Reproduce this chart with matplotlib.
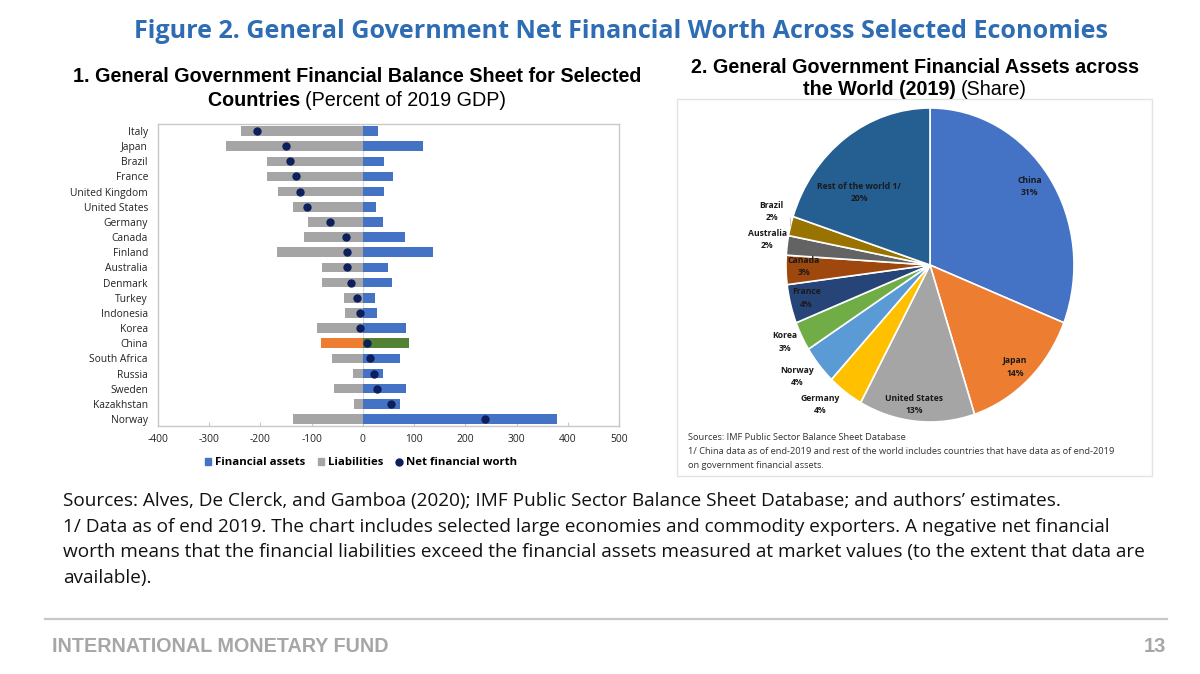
import numpy as np
import matplotlib
matplotlib.use("Agg")
import matplotlib.pyplot as plt
from matplotlib.patches import Patch, Rectangle
from matplotlib.lines import Line2D

plt.rcParams["axes.unicode_minus"] = False

# ---- data: panel 1 (percent of 2019 GDP)
countries = ["Italy", "Japan", "Brazil", "France", "United Kingdom", "United States",
             "Germany", "Canada", "Finland", "Australia", "Denmark", "Turkey",
             "Indonesia", "Korea", "China", "South Africa", "Russia", "Sweden",
             "Kazakhstan", "Norway"]
assets = [29, 117, 42, 58, 42, 25, 40, 83, 136, 50, 56, 23, 27, 85, 89, 73, 39, 85, 73, 378]
liabilities = [-237, -267, -187, -187, -165, -136, -107, -115, -167, -80, -79, -36,
               -35, -90, -81, -61, -20, -56, -18, -137]
net_worth = [-207, -150, -143, -130, -122, -109, -64, -33, -30, -30, -23, -12,
             -6, -6, 8, 13, 21, 28, 55, 239]

# ---- data: panel 2 (share of world assets, 2019)
pie_names = ["China", "Japan", "United States", "Germany", "Norway", "Korea",
             "France", "Canada", "Australia", "Brazil", "Rest of the world 1/"]
pie_shares = [31, 14, 13, 4, 4, 3, 4, 3, 2, 2, 20]

BLUE = "#4472C4"
GREY = "#A5A5A5"
pie_colors = ["#4472C4", "#ED7D31", "#A5A5A5", "#FFC000", "#5B9BD5", "#70AD47",
              "#264478", "#9E480E", "#636363", "#997300", "#255E91"]
# label positions in pie units (layout only)
label_pos = [(0.69, 0.50), (0.59, -0.65), (-0.11, -0.89), (-0.76, -0.89),
             (-0.92, -0.71), (-1.01, -0.49), (-0.86, -0.21), (-0.875, -0.01),
             (-1.13, 0.16), (-1.10, 0.34), (-0.49, 0.46)]

W, H = 1200, 674
fig = plt.figure(figsize=(12, 6.74), dpi=100)
fig.patch.set_facecolor("white")

def fx(px):
    return px / W

def fy(py):
    return 1 - py / H

SANS = ["Open Sans", "DejaVu Sans"]
ARIAL = ["Liberation Sans", "DejaVu Sans"]

# ---- titles
fig.text(fx(621), fy(38), "Figure 2. General Government Net Financial Worth Across Selected Economies",
         ha="center", va="baseline", fontsize=18.1, fontweight="bold", color="#2E6DB4", family=SANS)

renderer = fig.canvas.get_renderer()

def mixed_line(xc, yb, bold_txt, reg_txt, size):
    t1 = fig.text(0, fy(yb), bold_txt, ha="left", va="baseline", fontsize=size,
                  fontweight="bold", family=ARIAL)
    t2 = fig.text(0, fy(yb), reg_txt, ha="left", va="baseline", fontsize=size, family=ARIAL)
    w1 = t1.get_window_extent(renderer).width
    w2 = t2.get_window_extent(renderer).width if reg_txt else 0
    x0 = xc - (w1 + w2) / 2
    t1.set_x(fx(x0))
    t2.set_x(fx(x0 + w1))

mixed_line(357, 82, "1. General Government Financial Balance Sheet for Selected", "", 14.2)
mixed_line(357, 106, "Countries ", "(Percent of 2019 GDP)", 14.2)
mixed_line(915, 73, "2. General Government Financial Assets across", "", 14.2)
mixed_line(915, 95, "the World (2019) ", "(Share)", 14.2)

# ---- panel 1: bars
ax = fig.add_axes([fx(157.7), fy(426), fx(619.3 - 157.7), (426 - 124) / H])
y = np.arange(len(countries))
liab_col = [GREY] * len(countries)
ass_col = [BLUE] * len(countries)
ci = countries.index("China")
liab_col[ci] = "#ED7D31"
ass_col[ci] = "#548235"
ax.barh(y, assets, height=0.63, color=ass_col, zorder=2)
ax.barh(y, liabilities, height=0.63, color=liab_col, zorder=2)
ax.plot(net_worth, y, "o", color="#0D1F5C", markersize=5, zorder=3, linestyle="none")
ax.axvline(0, color="#D9D9D9", lw=0.8, zorder=1)
ax.set_xlim(-400, 500)
ax.set_ylim(len(countries) - 0.54, -0.46)
ax.set_xticks(range(-400, 501, 100))
ax.set_yticks(y)
ax.set_yticklabels(countries)
for s in ax.spines.values():
    s.set_color("#C8C8C8")
    s.set_linewidth(1.0)
ax.tick_params(axis="y", length=0, pad=7, labelsize=7.4, labelcolor="#222222")
ax.tick_params(axis="x", direction="in", length=3, color="#C8C8C8", pad=6,
               labelsize=7.4, labelcolor="#222222")
for lbl in ax.get_xticklabels() + ax.get_yticklabels():
    lbl.set_family(SANS)

handles = [Patch(color=BLUE), Patch(color=GREY),
           Line2D([], [], marker="o", color="#0D1F5C", linestyle="none", markersize=5)]
leg = ax.legend(handles, ["Financial assets", "Liabilities", "Net financial worth"],
                loc="upper center", bbox_to_anchor=(0.44, -0.07), ncol=3, frameon=False,
                handlelength=0.6, handleheight=0.6, handletextpad=0.3, columnspacing=1.1,
                prop={"family": SANS, "weight": "bold", "size": 8.2})

# ---- panel 2: pie
box = Rectangle((fx(677), fy(476)), fx(1152 - 677), (476 - 99) / H, transform=fig.transFigure,
                fill=False, edgecolor="#E3E3E3", lw=1.0)
fig.patches.append(box)

pax = fig.add_axes([fx(930 - 1.25 * 144), fy(265 + 1.25 * 157), fx(2.5 * 144), 2.5 * 157 / H])
wedges, _ = pax.pie(pie_shares, colors=pie_colors, startangle=90, counterclock=False,
                    wedgeprops={"edgecolor": "white", "linewidth": 1.2})
pax.set_aspect("auto")
pax.set_xlim(-1.25, 1.25)
pax.set_ylim(-1.25, 1.25)
pax.axis("off")
for name, share, (lx, ly) in zip(pie_names, pie_shares, label_pos):
    pax.text(lx, ly, f"{name}\n{share}%", ha="center", va="center", fontsize=6.2,
             fontweight="bold", color="#1A1A1A", family=SANS, linespacing=1.45)
# leader line for Brazil
bw = wedges[pie_names.index("Brazil")]
mid = np.deg2rad((bw.theta1 + bw.theta2) / 2)
pax.plot([np.cos(mid) * 1.0, -0.97], [np.sin(mid) * 1.0, 0.30], color="#BFBFBF", lw=0.6)

src2 = ["Sources: IMF Public Sector Balance Sheet Database",
        "1/ China data as of end-2019 and rest of the world includes countries that have data as of end-2019",
        "on government financial assets."]
for i, line in enumerate(src2):
    fig.text(fx(688), fy(440 + i * 14), line, ha="left", va="baseline", fontsize=6.65,
             color="#333333", family=SANS)

# ---- notes
notes = ["Sources: Alves, De Clerck, and Gamboa (2020); IMF Public Sector Balance Sheet Database; and authors\u2019 estimates.",
         "1/ Data as of end 2019. The chart includes selected large economies and commodity exporters. A negative net financial",
         "worth means that the financial liabilities exceed the financial assets measured at market values (to the extent that data are",
         "available)."]
for i, line in enumerate(notes):
    fig.text(fx(63), fy(506 + i * 25.5), line, ha="left", va="baseline", fontsize=13.7,
             color="#111111", family=SANS)

# ---- footer
fig.add_artist(Line2D([fx(45), fx(1167)], [fy(619), fy(619)], color="#C8C8C8", lw=1.6))
fig.text(fx(52), fy(652), "INTERNATIONAL MONETARY FUND", ha="left", va="baseline",
         fontsize=14.2, fontweight="bold", color="#A6A6A6", family=ARIAL)
fig.text(fx(1166), fy(652), "13", ha="right", va="baseline", fontsize=14.5,
         fontweight="bold", color="#A6A6A6", family=ARIAL)

fig.savefig("out.png", dpi=100)
